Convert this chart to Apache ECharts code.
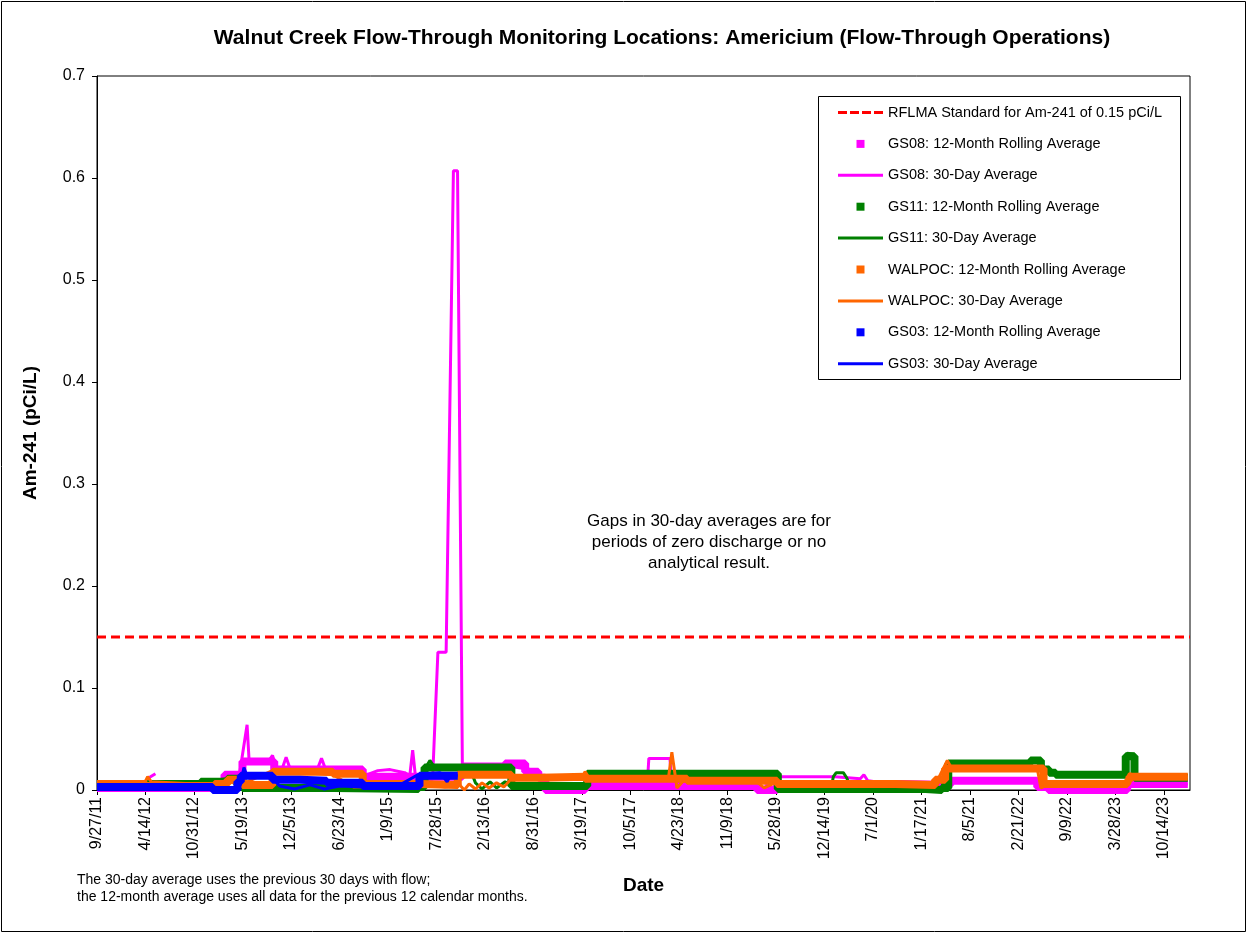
<!DOCTYPE html>
<html>
<head>
<meta charset="utf-8">
<title>Walnut Creek Flow-Through Monitoring Locations: Americium</title>
<script src="https://cdn.jsdelivr.net/npm/echarts@6/dist/echarts.min.js"></script>
<style>
  html, body { margin: 0; padding: 0; background: #fff; }
  #chart { width: 1250px; height: 935px; }
</style>
</head>
<body>
<div id="chart"></div>
<script>
// axis origin and tick spacing (days), like the Excel date axis
const startDate = '2011-09-27'
const endDate = '2024-01-30'
const tickDays = 200
const yTicks = [0, 0.1, 0.2, 0.3, 0.4, 0.5, 0.6, 0.7]
const standardValue = 0.15

// GS08 (magenta)
const gs08RollDates = ['2011-09-27', '2013-03-06', '2013-05-19', '2013-09-27', '2014-09-27', '2015-11-12', '2016-05-06', '2016-07-28', '2016-09-20', '2016-10-19', '2017-04-01', '2019-03-11', '2019-06-02', '2020-05-22', '2020-10-22', '2021-05-16', '2022-05-10', '2022-06-25', '2023-05-16', '2024-01-21']
const gs08RollValues = [0.002, 0.015, 0.028, 0.020, 0.013, 0.023, 0.026, 0.018, 0.012, 0.0, 0.004, 0.0, 0.006, 0.006, 0.005, 0.009, 0.003, 0.0, 0.006, 0.006]
const gs08DayDates = ['2011-09-27', '2012-04-23', '2012-04-28', '2012-05-25', '2012-06-01', '2013-03-15', '2013-05-05', '2013-06-07', '2013-06-15', '2013-09-06', '2013-09-20', '2013-10-05', '2013-10-30', '2013-11-15', '2013-12-01', '2014-03-25', '2014-04-10', '2014-04-27', '2014-09-27', '2014-10-05', '2014-11-28', '2015-01-18', '2015-03-19', '2015-04-09', '2015-04-21', '2015-05-03', '2015-07-12', '2015-08-03', '2015-09-06', '2015-10-06', '2015-10-23', '2015-11-12', '2015-12-15', '2016-05-06', '2016-08-18', '2016-10-19', '2016-11-01', '2017-06-02', '2017-12-13', '2017-12-20', '2018-03-17', '2018-03-25', '2019-03-11', '2019-03-31', '2019-05-25', '2020-01-28', '2020-05-10', '2020-05-25', '2020-06-10', '2020-10-22', '2021-04-25', '2021-05-20', '2022-04-12', '2022-06-13', '2022-07-25', '2023-05-08', '2023-05-25', '2024-01-21']
const gs08DayValues = [0.002, 0.003, 0.012, 0.016, '-', 0.012, 0.013, 0.064, 0.030, 0.029, 0.034, 0.021, 0.021, 0.032, 0.021, 0.021, 0.031, 0.020, 0.018, 0.014, 0.019, 0.020, 0.017, 0.014, 0.039, 0.012, 0.010, 0.135, 0.135, 0.607, 0.607, 0.022, 0.024, 0.024, 0.020, 0.005, '-', 0.003, 0.003, 0.031, 0.031, 0.003, 0.003, 0.0, 0.013, 0.013, 0.011, 0.015, 0.009, 0.005, 0.005, 0.009, 0.009, 0.002, 0.0, 0.0, 0.007, 0.006]

// GS11 (green)
const gs11RollDates = ['2011-09-27', '2012-03-21', '2012-11-28', '2013-03-18', '2013-05-19', '2014-06-01', '2015-05-15', '2015-06-09', '2016-06-01', '2017-04-10', '2019-06-05', '2021-02-03', '2021-04-12', '2021-05-08', '2022-04-12', '2022-05-25', '2022-06-28', '2022-07-25', '2023-05-10', '2023-06-15', '2024-01-21']
const gs11RollValues = [0.003, 0.006, 0.008, 0.011, 0.002, 0.001, 0.003, 0.022, 0.004, 0.016, 0.001, 0.0, 0.002, 0.026, 0.029, 0.020, 0.017, 0.015, 0.033, 0.012, 0.012]
const gs11DayDates = ['2011-09-27', '2012-03-21', '2012-11-28', '2013-03-18', '2013-05-19', '2014-06-01', '2015-05-15', '2015-06-09', '2015-07-01', '2015-07-20', '2015-12-15', '2016-01-05', '2016-02-01', '2016-03-05', '2016-04-01', '2016-05-06', '2016-06-01', '2017-04-01', '2017-04-10', '2019-06-02', '2019-06-12', '2020-01-10', '2020-01-20', '2020-02-01', '2020-03-01', '2020-03-15', '2020-04-01', '2021-02-03', '2021-04-12', '2021-05-01', '2022-04-12', '2022-04-20', '2022-05-20', '2022-05-27', '2022-06-28', '2023-05-10', '2023-05-16', '2023-06-13', '2023-06-20', '2024-01-21']
const gs11DayValues = [0.003, 0.006, 0.008, 0.011, 0.001, 0.0, 0.003, 0.020, 0.029, 0.022, 0.020, 0.007, 0.001, 0.008, 0.002, 0.008, 0.004, 0.004, 0.016, 0.016, 0.001, 0.001, 0.013, 0.017, 0.017, 0.012, 0.002, 0.0, 0.002, 0.027, 0.027, 0.030, 0.030, 0.020, 0.017, 0.017, 0.036, 0.035, 0.014, 0.014]

// WALPOC (orange)
const walpocRollDates = ['2011-09-27', '2012-04-15', '2013-01-24', '2013-03-18', '2013-05-19', '2013-09-20', '2014-05-27', '2014-09-27', '2015-05-19', '2015-10-24', '2016-06-01', '2016-10-01', '2017-04-01', '2018-05-27', '2019-06-02', '2020-10-01', '2021-03-15', '2021-04-25', '2022-06-05', '2023-05-16', '2023-05-25', '2024-01-21']
const walpocRollValues = [0.006, 0.004, 0.006, 0.010, 0.005, 0.018, 0.016, 0.006, 0.005, 0.015, 0.012, 0.013, 0.011, 0.009, 0.006, 0.005, 0.010, 0.021, 0.006, 0.009, 0.013, 0.013]
const walpocDayDates = ['2011-09-27', '2012-04-10', '2012-04-23', '2012-05-08', '2013-01-24', '2013-03-18', '2013-05-19', '2013-09-20', '2014-05-27', '2014-08-20', '2015-05-19', '2015-07-01', '2015-09-01', '2015-11-01', '2015-11-20', '2015-12-10', '2016-01-05', '2016-02-01', '2016-03-01', '2016-04-01', '2016-05-01', '2016-06-01', '2017-03-20', '2017-04-01', '2017-04-20', '2018-03-10', '2018-03-25', '2018-04-15', '2018-05-12', '2019-03-11', '2019-04-10', '2019-06-02', '2020-10-22', '2021-03-15', '2021-04-01', '2021-05-04', '2021-05-20', '2022-05-10', '2022-05-25', '2022-06-28', '2023-05-08', '2023-05-25', '2023-06-30', '2024-01-21']
const walpocDayValues = [0.007, 0.007, 0.013, 0.008, 0.005, 0.008, 0.006, 0.019, 0.015, 0.003, 0.004, 0.005, 0.003, 0.005, 0.0, 0.006, 0.001, 0.007, 0.002, 0.007, 0.003, 0.011, 0.012, 0.018, 0.011, 0.010, 0.037, 0.002, 0.009, 0.008, 0.002, 0.008, 0.006, 0.005, 0.013, 0.029, 0.022, 0.021, 0.002, 0.006, 0.006, 0.016, 0.013, 0.013]

// GS03 (blue)
const gs03RollDates = ['2011-09-27', '2013-01-16', '2013-04-28', '2013-05-12', '2013-09-20', '2014-01-11', '2014-05-01', '2014-09-27', '2015-05-19', '2015-10-24']
const gs03RollValues = [0.003, 0.0, 0.008, 0.014, 0.010, 0.009, 0.007, 0.004, 0.014, 0.014]
const gs03DayDates = ['2011-09-27', '2012-05-01', '2013-01-16', '2013-04-28', '2013-05-10', '2013-05-25', '2013-06-05', '2013-09-20', '2013-10-19', '2013-12-20', '2014-02-21', '2014-04-22', '2014-06-24', '2014-09-27', '2015-02-28', '2015-05-12', '2015-08-12', '2015-09-10', '2015-09-25', '2015-10-24']
const gs03DayValues = [0.002, 0.003, 0.001, 0.002, 0.005, 0.022, 0.015, 0.012, 0.004, 0.001, 0.005, 0.001, 0.004, 0.003, 0.005, 0.015, 0.017, 0.008, 0.015, 0.014]

const FONT = '"Liberation Sans", Arial, sans-serif'
const MS_DAY = 86400000
const t0 = Date.parse(startDate)

const toDay = s => (Date.parse(s) - t0) / MS_DAY
const pairs = (dates, values) => dates.map((d, i) => [toDay(d), values[i]])

const fmtDate = d => {
  const dt = new Date(t0 + d * MS_DAY)
  return (dt.getUTCMonth() + 1) + '/' + dt.getUTCDate() + '/' + String(dt.getUTCFullYear()).slice(2)
}

// legend icons: small square for the marker series, short bars for the lines
const SQUARE = 'path://M0,0L10,0L10,10L0,10Z'
const LINE = 'path://M0,0L45,0L45,3L0,3Z'
const DASH = 'path://M0,0h9v3h-9zM12,0h9v3h-9zM24,0h9v3h-9zM36,0h9v3h-9z'
const stdName = 'RFLMA Standard for Am-241 of 0.15 pCi/L'

// 12-month rolling averages: dense square markers in the original -> thick step line
const rollSeries = (name, color, dates, values) => ({
  name,
  type: 'line',
  step: 'end',
  symbol: 'none',
  data: pairs(dates, values),
  lineStyle: { color, width: 8 },
  itemStyle: { color },
  connectNulls: false
})

// 30-day averages: thin lines, gaps where '-'
const daySeries = (name, color, dates, values) => ({
  name,
  type: 'line',
  symbol: 'none',
  data: pairs(dates, values),
  lineStyle: { color, width: 3 },
  itemStyle: { color },
  connectNulls: false
})

const maxDay = toDay(endDate)

const chart = echarts.init(document.getElementById('chart'))

const option = {
  animation: false,
  backgroundColor: '#fff',
  grid: {
    left: 97,
    right: 60,
    top: 76,
    bottom: 145,
    show: true,
    borderColor: '#000',
    borderWidth: 1
  },
  xAxis: {
    type: 'value',
    min: 0,
    max: maxDay,
    interval: tickDays,
    name: 'Date',
    nameLocation: 'middle',
    nameGap: 86,
    nameTextStyle: { fontFamily: FONT, fontSize: 19, fontWeight: 'bold', color: '#000' },
    axisLine: { lineStyle: { color: '#000', width: 1 } },
    axisTick: { show: true, length: 5, lineStyle: { color: '#000' } },
    axisLabel: {
      rotate: 90,
      margin: 7,
      fontFamily: FONT,
      fontSize: 16,
      color: '#000',
      showMaxLabel: false,
      formatter: v => fmtDate(v)
    },
    splitLine: { show: false }
  },
  yAxis: {
    type: 'value',
    min: yTicks[0],
    max: yTicks[yTicks.length - 1],
    interval: 0.1,
    name: 'Am-241 (pCi/L)',
    nameLocation: 'middle',
    nameGap: 57,
    nameTextStyle: { fontFamily: FONT, fontSize: 19, fontWeight: 'bold', color: '#000' },
    axisLine: { show: true, lineStyle: { color: '#000', width: 1 } },
    axisTick: { show: true, length: 5, lineStyle: { color: '#000' } },
    axisLabel: {
      fontFamily: FONT,
      fontSize: 16,
      color: '#000',
      margin: 12,
      padding: [4, 0, 0, 0],
      formatter: v => (v === 0 ? '0' : v.toFixed(1))
    },
    splitLine: { show: false }
  },
  legend: {
    orient: 'vertical',
    left: 833,
    top: 100,
    itemWidth: 45,
    itemHeight: 8,
    itemGap: 16.4,
    selectedMode: false,
    textStyle: { fontFamily: FONT, fontSize: 14.5, color: '#000', lineHeight: 14 },
    data: [
      { name: stdName, icon: DASH },
      { name: 'GS08: 12-Month Rolling Average', icon: SQUARE },
      { name: 'GS08: 30-Day Average', icon: LINE },
      { name: 'GS11: 12-Month Rolling Average', icon: SQUARE },
      { name: 'GS11: 30-Day Average', icon: LINE },
      { name: 'WALPOC: 12-Month Rolling Average', icon: SQUARE },
      { name: 'WALPOC: 30-Day Average', icon: LINE },
      { name: 'GS03: 12-Month Rolling Average', icon: SQUARE },
      { name: 'GS03: 30-Day Average', icon: LINE }
    ]
  },
  graphic: [
    {
      type: 'rect',
      z: 3,
      silent: true,
      shape: { x: 818.5, y: 96.5, width: 362, height: 283 },
      style: { fill: '#fff', stroke: '#000', lineWidth: 1 }
    },
    {
      type: 'rect',
      z: 0,
      silent: true,
      shape: { x: 1.5, y: 1.5, width: 1244, height: 930 },
      style: { fill: 'none', stroke: '#000', lineWidth: 1 }
    },
    {
      type: 'text',
      x: 662,
      y: 38,
      style: {
        text: 'Walnut Creek Flow-Through Monitoring Locations: Americium (Flow-Through Operations)',
        font: 'bold 21px ' + FONT,
        textAlign: 'center',
        textVerticalAlign: 'middle',
        fill: '#000'
      }
    },
    {
      type: 'text',
      x: 709,
      y: 542,
      style: {
        text: 'Gaps in 30-day averages are for\nperiods of zero discharge or no\nanalytical result.',
        font: '17px ' + FONT,
        lineHeight: 21,
        textAlign: 'center',
        textVerticalAlign: 'middle',
        fill: '#000'
      }
    },
    {
      type: 'text',
      x: 77,
      y: 889,
      style: {
        text: 'The 30-day average uses the previous 30 days with flow;\nthe 12-month average uses all data for the previous 12 calendar months.',
        font: '14px ' + FONT,
        lineHeight: 17,
        textAlign: 'left',
        textVerticalAlign: 'middle',
        fill: '#000'
      }
    }
  ],
  series: [
    {
      name: stdName,
      type: 'line',
      symbol: 'none',
      data: [[0, standardValue], [maxDay, standardValue]],
      lineStyle: { color: '#FF0000', width: 3, type: [9, 5] },
      itemStyle: { color: '#FF0000' }
    },
    rollSeries('GS08: 12-Month Rolling Average', '#FF00FF', gs08RollDates, gs08RollValues),
    daySeries('GS08: 30-Day Average', '#FF00FF', gs08DayDates, gs08DayValues),
    rollSeries('GS11: 12-Month Rolling Average', '#008000', gs11RollDates, gs11RollValues),
    daySeries('GS11: 30-Day Average', '#008000', gs11DayDates, gs11DayValues),
    rollSeries('WALPOC: 12-Month Rolling Average', '#FF6600', walpocRollDates, walpocRollValues),
    daySeries('WALPOC: 30-Day Average', '#FF6600', walpocDayDates, walpocDayValues),
    rollSeries('GS03: 12-Month Rolling Average', '#0000FF', gs03RollDates, gs03RollValues),
    daySeries('GS03: 30-Day Average', '#0000FF', gs03DayDates, gs03DayValues)
  ]
}

chart.setOption(option)
</script>
</body>
</html>
